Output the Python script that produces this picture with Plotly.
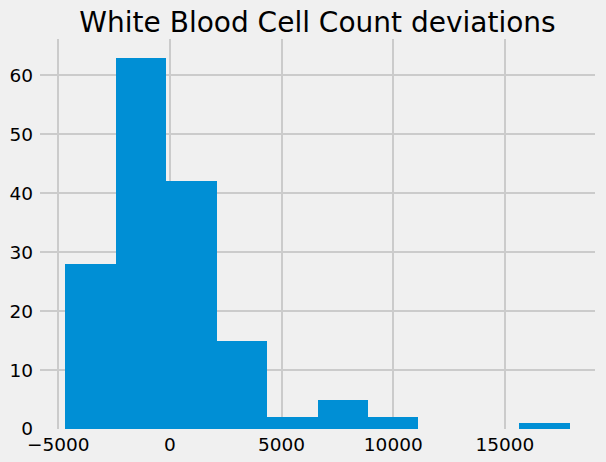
import plotly.graph_objects as go

bin_edges = [-4687, -2428, -169, 2090, 4349, 6608, 8867, 11126, 13385, 15644, 17903]
counts = [28, 63, 42, 15, 2, 5, 2, 0, 0, 1]
x_ticks = [-5000, 0, 5000, 10000, 15000]
x_tick_labels = ["\u22125000", "0", "5000", "10000", "15000"]
y_ticks = [0, 10, 20, 30, 40, 50, 60]

centers = [(a + b) / 2 for a, b in zip(bin_edges[:-1], bin_edges[1:])]
widths = [b - a for a, b in zip(bin_edges[:-1], bin_edges[1:])]

fig = go.Figure(go.Bar(x=centers, y=counts, width=widths,
                       marker=dict(color="#008fd5", line=dict(width=0))))

span = bin_edges[-1] - bin_edges[0]
fig.update_layout(
    width=606, height=462,
    margin=dict(l=40, r=11, t=39, b=33),
    paper_bgcolor="#f0f0f0", plot_bgcolor="#f0f0f0",
    font=dict(family="DejaVu Sans", size=18.5, color="#000"),
    title=dict(text="White Blood Cell Count deviations", x=0.5, xref="paper",
               xanchor="center", y=1 - 22 / 462, yanchor="middle", font=dict(size=28)),
    bargap=0, showlegend=False,
)
fig.update_xaxes(range=[bin_edges[0] - 0.05 * span, bin_edges[-1] + 0.05 * span],
                 tickvals=x_ticks, ticktext=x_tick_labels, showgrid=True,
                 gridcolor="#cbcbcb", gridwidth=1.5, zeroline=False, showline=False,
                 ticks="", ticklabelstandoff=2, automargin=False)
fig.update_yaxes(range=[0, 63 * 1.05], tickvals=y_ticks, showgrid=True,
                 gridcolor="#cbcbcb", gridwidth=1.5, zeroline=False, showline=False,
                 ticks="", ticklabelstandoff=6, automargin=False)

fig.write_html("out.html", config={"displayModeBar": False},
               post_script="document.body.style.margin='0';document.body.style.background='#f0f0f0';")
